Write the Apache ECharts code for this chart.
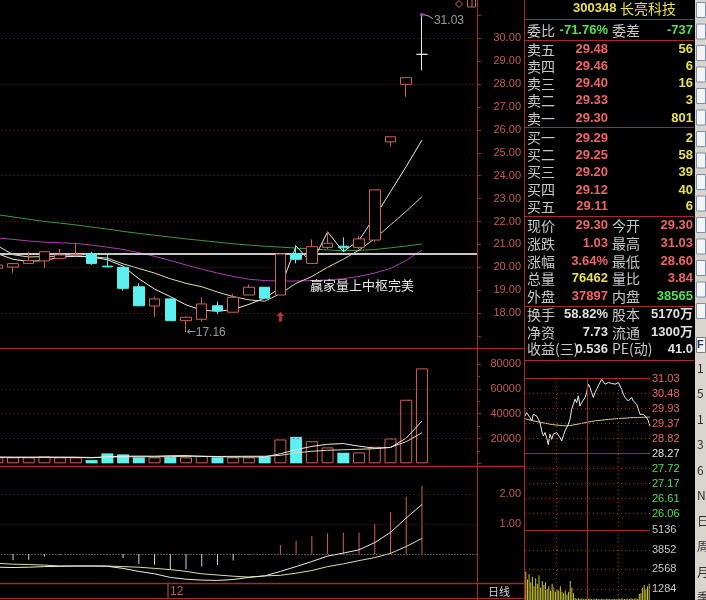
<!DOCTYPE html>
<html><head><meta charset="utf-8">
<script src="https://cdn.jsdelivr.net/npm/echarts@6/dist/echarts.min.js"></script>
<style>html,body{margin:0;padding:0;background:#000;overflow:hidden;width:706px;height:600px;position:relative}#c{position:absolute;left:-11px;top:0;width:717px;height:600px}</style>
</head><body><div id="c"></div>
<script>
// ---------------- data ----------------
const dates = ['11-16','11-19','11-20','11-21','11-22','11-23','11-26','11-27','11-28','11-29','11-30','12-03','12-04','12-05','12-06','12-07','12-10','12-11','12-12','12-13','12-14','12-17','12-18','12-19','12-20','12-21','12-24','12-25','12-26','12-27','12-28'];
const opens  = [19.96,20.01,20.17,20.28,20.39,20.52,20.60,20.05,20.00,19.15,18.31,18.62,17.67,17.73,18.32,18.04,18.79,19.13,18.79,20.60,20.17,20.87,20.92,20.87,21.19,25.48,27.99,29.30];
const closes = [20.10,20.16,20.29,20.68,20.54,20.55,20.17,20.02,19.08,18.32,18.62,17.67,17.82,18.40,18.10,18.69,19.13,18.65,20.58,20.35,20.90,21.05,20.85,21.24,23.38,25.70,28.28,29.30];
const lows   = [19.90,19.76,20.17,19.96,20.39,20.52,20.10,20.00,18.98,18.30,17.84,17.67,17.16,17.62,17.96,18.04,18.79,18.65,18.79,20.17,20.15,20.80,20.70,20.80,21.12,25.27,27.45,28.60];
const highs  = [20.15,20.18,20.68,20.70,20.80,21.07,20.68,20.60,20.00,19.30,18.72,18.62,17.85,18.69,18.50,18.83,19.25,19.13,20.60,20.97,21.22,21.55,21.31,21.37,23.38,25.70,28.28,31.03];
const ma5  = [20.60,20.35,20.26,20.30,20.45,20.48,20.45,20.33,20.05,19.50,19.05,18.72,18.36,18.13,18.08,18.15,18.38,18.66,19.10,20.93,20.17,21.55,20.68,21.19,22.20,23.30,24.40,25.56];
const ma10 = [20.95,20.55,20.45,20.47,20.49,20.50,20.46,20.40,20.15,19.95,19.75,19.50,19.30,19.15,18.92,18.72,18.58,18.52,18.85,19.30,19.60,20.00,20.35,20.75,21.25,21.85,22.45,23.08];
const ma30 = [21.28,21.22,21.15,21.10,21.07,21.04,20.97,20.88,20.78,20.64,20.48,20.30,20.10,19.92,19.75,19.60,19.48,19.42,19.40,19.40,19.42,19.45,19.50,19.60,19.75,19.95,20.30,20.75];
const ma60 = [22.30,22.20,22.10,22.00,21.93,21.85,21.76,21.67,21.57,21.48,21.40,21.32,21.24,21.17,21.10,21.03,20.97,20.92,20.88,20.84,20.80,20.76,20.72,20.74,20.78,20.85,20.93,21.02];
const refLevel = 20.58;
const lowMark = {idx:12, value:17.16};
const highMark = {idx:27, value:31.03};
const signalIdx = [18];
const signalPrice = [17.84];
const volumes = [4800,4800,4800,5500,4800,4800,2600,8000,7200,4800,4800,5000,4800,5800,4800,4800,4800,5500,19200,21300,17800,12800,8500,8800,13300,20000,51200,76462];
const volMa5  = [4900,4800,4800,4900,4800,4800,4400,5200,5700,5800,5700,6100,6200,5600,5300,5100,5100,5100,7700,11000,13600,15300,15900,13800,12200,12700,20300,34000];
const volMa10 = [5000,4900,4900,4900,4900,4900,4700,5000,5200,5300,5200,5400,5600,5700,5500,5600,5700,5700,6400,8400,9700,10500,10900,11300,11800,12900,17400,24600];
const macd = [-0.25,-0.21,-0.19,-0.08,-0.02,0.01,-0.01,-0.02,-0.13,-0.33,-0.36,-0.52,-0.51,-0.42,-0.37,-0.22,-0.02,0.00,0.30,0.44,0.60,0.69,0.71,0.72,1.00,1.39,1.91,2.27];
const dif  = [-0.44,-0.45,-0.44,-0.42,-0.41,-0.40,-0.40,-0.41,-0.48,-0.58,-0.66,-0.78,-0.84,-0.87,-0.88,-0.85,-0.78,-0.73,-0.58,-0.42,-0.25,-0.07,0.03,0.14,0.38,0.72,1.20,1.65];
const dea  = [-0.31,-0.34,-0.35,-0.37,-0.40,-0.40,-0.40,-0.40,-0.42,-0.44,-0.48,-0.52,-0.58,-0.66,-0.70,-0.74,-0.77,-0.73,-0.71,-0.64,-0.55,-0.42,-0.33,-0.22,-0.12,0.02,0.25,0.52];
const priceGridLevels = [18,20,22,24,26,28,30];
const volGridLevels = [20000,40000,60000];
const macdGridLevels = [1,2];
const indicatorTitle = '赢家量上中枢完美';
const periodLabel = '日线';

// intraday mini chart
const prevClose = 28.27;
const miniPrice = [29.68,29.80,29.87,29.62,29.50,29.74,29.80,29.68,29.56,29.44,
29.13,28.95,29.07,28.88,28.62,29.01,28.82,29.01,28.95,29.07,
29.01,28.88,28.76,28.95,29.13,29.25,29.38,29.56,29.93,30.11,
30.30,30.17,30.42,30.05,30.17,30.23,30.36,30.54,30.85,30.73,
30.54,30.36,30.54,30.66,30.79,30.91,31.03,30.97,30.85,30.91,
30.91,30.85,30.88,30.91,30.85,30.85,30.91,30.88,30.66,30.48,
30.36,30.30,30.23,30.17,30.36,30.23,30.17,30.11,29.93,29.74,
29.80,29.74,29.68,29.62,29.50,29.30];
const miniAvg = [29.58,29.50,29.44,29.38,29.34,29.32,29.36,29.42,29.48,29.52,29.55,29.58,29.60,29.62,29.63,29.64];
const miniVol = [2100,1500,1900,1300,1700,1000,1600,1200,1800,900,
1400,1100,1300,800,1000,700,1200,900,600,800,
700,1000,600,500,700,400,600,1400,900,500,
150,100,120,90,110,80,70,100,90,120,
80,60,90,100,70,60,90,80,60,90,
100,70,60,90,70,60,90,80,120,90,
70,100,90,80,120,90,100,120,90,450,
500,900,1100,800,1000,1200];
const miniPriceLabels = ['31.03','30.48','29.93','29.37','28.82','28.27','27.72','27.17','26.61','26.06'];
const miniVolLabels = ['5136','3852','2568','1284'];

// quote panel
const stockCode = '300348', stockName = '长亮科技';
const weiRow = ['委比','-71.76%','委差','-737'];
const bookRows = [['卖五','29.48','56'],['卖四','29.46','6'],['卖三','29.40','16'],['卖二','29.33','3'],['卖一','29.30','801'],
                  ['买一','29.29','2'],['买二','29.25','58'],['买三','29.20','39'],['买四','29.12','40'],['买五','29.11','6']];
const quoteRows = [['现价','29.30','今开','29.30'],['涨跌','1.03','最高','31.03'],['涨幅','3.64%','最低','28.60'],['总量','76462','量比','3.84'],['外盘','37897','内盘','38565']];
const infoRows = [['换手','58.82%','股本','5170万'],['净资','7.73','流通','1300万'],['收益(三)','0.536','PE(动)','41.0']];
const toolLetters = ['1','5','1','3','6','N','日','周','月','季'];

// ---------------- styles ----------------
const OX = 11; // canvas is shifted 11px left so the first, half-hidden candle can sit left of the page edge
const RED='#d2605a', CYAN='#5cf0f0', BORDER='#a82828', GRID='#7a2424', AXT='#c65a5a';
const LBL='#c8c8c8', PR='#f06464', YEL='#e8e050', GRN='#50e050', WHT='#e0e0e0';
const NUMF='Liberation Sans, DejaVu Sans';
const valueColor = {'委比':GRN,'委差':GRN,'现价':PR,'今开':PR,'涨跌':PR,'最高':PR,'涨幅':PR,'最低':PR,'总量':YEL,'量比':PR,'外盘':PR,'内盘':GRN};

const candleData = opens.map((o,i)=>{
  const it = {value:[o, closes[i], lows[i], highs[i]]};
  if (o === closes[i]) it.itemStyle = {color:'#e8e8e8',color0:'#e8e8e8',borderColor:'#e8e8e8',borderColor0:'#e8e8e8',borderColorDoji:'#e8e8e8'};
  return it;
});
const volData = volumes.map((v,i)=>({value:v, itemStyle: closes[i]>=opens[i] ? {color:'#000',borderColor:RED,borderWidth:1} : {color:CYAN,borderColor:CYAN,borderWidth:0}}));
const nulls = dates.map(()=>null);
function gridSeries(xi, levels, extra){
  return {type:'line', xAxisIndex:xi, yAxisIndex:xi, data:nulls, silent:true, z:1, symbol:'none',
    markLine:{silent:true, symbol:'none', label:{show:false}, animation:false,
      lineStyle:{color:GRID, type:[1,3], width:1},
      data: levels.map(v=>({yAxis:v})).concat(extra||[])}};
}
const lineS = (xi, data, color, z) => ({type:'line', xAxisIndex:xi, yAxisIndex:xi, data, symbol:'none', z:z||3,
  lineStyle:{color, width:1}, silent:true, clip:false});

// ---------------- graphic (page coordinates, shifted by OX in a group) ----------------
const G = [];
function ln(x1,y1,x2,y2,c,dash,w){ G.push({type:'line', silent:true, z:50, shape:{x1,y1,x2,y2}, style:{stroke:c, lineWidth:w||1, lineDash:dash||null}}); }
function tx(x,y,t,c,font,align){ G.push({type:'text', silent:true, z:60, x, y, style:{text:t, fill:c, font, align:align||'left', verticalAlign:'middle'}}); }
const CJK14='14px "Noto Sans CJK SC"';
const NUM13='bold 13px "Liberation Sans", "Noto Sans CJK SC"';

ln(477.5,0,477.5,600,BORDER); ln(524.5,0,524.5,600,BORDER);
ln(0,348.5,524,348.5,BORDER); ln(0,466.5,524,466.5,BORDER,null,1.5); ln(0,583.5,524,583.5,BORDER,null,1.5); ln(0,598.5,524,598.5,BORDER);
ln(168,584,168,598,'#c06060');
tx(170,591.5,'12',AXT,'12px '+NUMF);
tx(488,591.5,periodLabel,'#d8d8d8','11px "Noto Sans CJK SC"');
tx(310,285,indicatorTitle,'#e8e8e8','13px "Noto Sans CJK SC"');
G.push({type:'polygon',silent:true,z:50,shape:{points:[[459,0.5],[462.5,4],[459,7.5],[455.5,4]]},style:{fill:'none',stroke:RED}});
G.push({type:'rect',silent:true,z:50,shape:{x:467.5,y:-1,width:8,height:8},style:{fill:'none',stroke:RED}});
ln(472,0,472,7,RED);

[19.5,40.5,127.5,216.5,306.5,360.5].forEach(y=>ln(525,y,694,y,BORDER));
tx(573,8.5,stockCode,YEL,'bold 13px "Liberation Sans"');
tx(620,8.5,stockName,YEL,CJK14);
tx(527,30.5,weiRow[0],LBL,CJK14); tx(608,30.5,weiRow[1],GRN,NUM13,'right');
tx(612,30.5,weiRow[2],LBL,CJK14); tx(693,30.5,weiRow[3],GRN,NUM13,'right');
const bookY=[49.7,66.5,83.5,100.5,118.3,138,155,172,190,206.7];
bookRows.forEach((r,i)=>{ tx(527,bookY[i],r[0],LBL,CJK14); tx(608,bookY[i],r[1],PR,NUM13,'right'); tx(693,bookY[i],r[2],YEL,NUM13,'right'); });
const quoteY=[225.8,243.5,261.3,278.7,296.2];
quoteRows.forEach((r,i)=>{ tx(527,quoteY[i],r[0],LBL,CJK14); tx(608,quoteY[i],r[1],valueColor[r[0]],NUM13,'right');
  tx(612,quoteY[i],r[2],LBL,CJK14); tx(693,quoteY[i],r[3],valueColor[r[2]],NUM13,'right'); });
const infoY=[314.7,332.3,349];
infoRows.forEach((r,i)=>{ tx(527,infoY[i],r[0],LBL,CJK14); tx(608,infoY[i],r[1],WHT,NUM13,'right');
  tx(612,infoY[i],r[2],LBL,CJK14); tx(693,infoY[i],r[3],WHT,NUM13,'right'); });

const mTop=379.3, mStep=15;
miniPriceLabels.forEach((t,i)=>{
  const y=mTop+i*mStep, v=parseFloat(t);
  const solid = (i===0 || t===prevClose.toFixed(2));
  ln(525,Math.round(y)-0.5,650,Math.round(y)-0.5,BORDER,solid?null:[1,3]);
  tx(652,y,t, v>prevClose?PR:(v<prevClose?GRN:WHT),'11px '+NUMF);
});
const mvY=[530,549.5,569,588.5];
miniVolLabels.forEach((t,i)=>{ ln(525,Math.round(mvY[i])+0.5,650,Math.round(mvY[i])+0.5,BORDER,i===0?null:[1,3]); tx(652,mvY[i],t,LBL,'11px '+NUMF); });
[[556.5,[1,3]],[587.5,null],[618.5,[1,3]]].forEach(a=>ln(a[0],378,a[0],600,BORDER,a[1]));

G.push({type:'rect',silent:true,z:40,shape:{x:695,y:0,width:11,height:600},style:{fill:'#d8d5cf'}});
for(let k=0;k<15;k++){ G.push({type:'rect',silent:true,z:41,shape:{x:696.5,y:2.5+k*21.5,width:9,height:15},style:{fill:'#f4f4f4',stroke:'#7890b0'}}); }
G.push({type:'rect',silent:true,z:41,shape:{x:696.5,y:337.5,width:9,height:15},style:{fill:'#f4f4f4',stroke:'#808080'}});
tx(697,345,'F','#203070','bold 11px '+NUMF);
toolLetters.forEach((t,i)=>tx(697,368+i*25.5,t,'#303030','12px "Noto Sans CJK SC"'));

// ---------------- option ----------------
const yLabel = (fmt)=>({color:AXT, fontSize:11, fontFamily:NUMF, margin:44, align:'right', formatter:fmt});
const markLabel = {show:true, position:'right', color:'#c0c0c0', fontSize:12, fontFamily:NUMF};
const option = {
  backgroundColor:'#000', animation:false,
  grid:[
    {left:OX-10.6, width:487.6, top:15.4, height:320.6},
    {left:OX-10.6, width:487.6, top:364, height:99.3},
    {left:OX-10.6, width:487.6, top:464, height:120},
    {left:OX+525, width:125, top:379.3, height:135},
    {left:OX+525, width:125, top:530, height:77.7}
  ],
  xAxis:[
    {gridIndex:0,type:'category',data:dates,boundaryGap:true,show:false},
    {gridIndex:1,type:'category',data:dates,boundaryGap:true,show:false},
    {gridIndex:2,type:'category',data:dates,boundaryGap:true,show:false},
    {gridIndex:3,type:'value',min:0,max:miniPrice.length-1,show:false},
    {gridIndex:4,type:'category',data:miniVol.map((_,i)=>String(i)),show:false}
  ],
  yAxis:[
    {gridIndex:0,type:'value',position:'right',min:17,max:31,interval:1,axisLine:{show:false},splitLine:{show:false},
      axisTick:{show:true,length:4,lineStyle:{color:BORDER}},
      axisLabel:yLabel(v=>(v>=priceGridLevels[0]&&v<=priceGridLevels[priceGridLevels.length-1])?v.toFixed(2):'')},
    {gridIndex:1,type:'value',position:'right',min:0,max:80000,interval:20000,axisLine:{show:false},splitLine:{show:false},
      axisTick:{show:true,length:4,lineStyle:{color:BORDER}},minorTick:{show:true,splitNumber:2,length:3,lineStyle:{color:BORDER}},
      axisLabel:yLabel(v=>v>0?String(v):'')},
    {gridIndex:2,type:'value',position:'right',min:-1,max:3,interval:1,axisLine:{show:false},splitLine:{show:false},
      axisTick:{show:false},minorTick:{show:false},
      axisLabel:yLabel(v=>macdGridLevels.indexOf(v)>=0?v.toFixed(2):'')},
    {gridIndex:3,type:'value',min:26.06,max:31.03,show:false},
    {gridIndex:4,type:'value',min:0,max:5136,show:false}
  ],
  series:[
    gridSeries(0, priceGridLevels, [{yAxis:refLevel, lineStyle:{color:'#c8c8c8', type:'solid', width:2}}]),
    {type:'candlestick', xAxisIndex:0, yAxisIndex:0, data:candleData, barWidth:11, clip:false, z:5,
      itemStyle:{color:'#000', color0:CYAN, borderColor:RED, borderColor0:CYAN, borderWidth:1, borderColorDoji:'#e8e8e8'}},
    lineS(0, ma60, '#3c9a3c', 3),
    lineS(0, ma30, '#b03cb0', 3),
    lineS(0, ma10, '#e0dca8', 4),
    lineS(0, ma5, '#ececec', 4),
    {type:'scatter', xAxisIndex:0, yAxisIndex:0, silent:true, z:7, clip:false,
      data:[[highMark.idx, highMark.value]], symbol:'circle', symbolSize:4, itemStyle:{color:'#c040c0'},
      label:Object.assign({}, markLabel, {distance:10, offset:[0,6], formatter:highMark.value.toFixed(2)})},
    {type:'scatter', xAxisIndex:0, yAxisIndex:0, silent:true, z:7, clip:false,
      data:[[lowMark.idx, lowMark.value]], symbol:'circle', symbolSize:1, itemStyle:{color:'rgba(0,0,0,0)'},
      label:Object.assign({}, markLabel, {distance:0, formatter:'{a|←}'+lowMark.value.toFixed(2),
        rich:{a:{fontFamily:'DejaVu Sans', fontSize:11, color:'#c0c0c0'}}})},
    {type:'scatter', xAxisIndex:0, yAxisIndex:0, silent:true, z:6, clip:false,
      data:signalIdx.map((d,i)=>[d, signalPrice[i]]),
      symbol:'path://M4,0 L8,4.5 L5.5,4.5 L5.5,10 L2.5,10 L2.5,4.5 L0,4.5 Z', symbolSize:[8,10], itemStyle:{color:'#e04040'}},
    gridSeries(1, volGridLevels),
    {type:'bar', xAxisIndex:1, yAxisIndex:1, data:volData, barWidth:12, z:3, silent:true},
    lineS(1, volMa10, '#e0dca8', 4),
    lineS(1, volMa5, '#ececec', 4),
    gridSeries(2, macdGridLevels, [{yAxis:0, lineStyle:{color:'#a0a0a0', type:[1,2], width:1}}]),
    {type:'bar', xAxisIndex:2, yAxisIndex:2, data:macd, barWidth:1, z:3, silent:true,
      itemStyle:{color:p=>p.value>=0?RED:'#a8e8e8'}},
    lineS(2, dea, '#e0dca8', 4),
    lineS(2, dif, '#ececec', 4),
    {type:'line', xAxisIndex:3, yAxisIndex:3, data:miniAvg.map((p,i)=>[i*5,p]), symbol:'none', smooth:true, lineStyle:{color:'#e0d890',width:1}, silent:true, z:4},
    {type:'line', xAxisIndex:3, yAxisIndex:3, data:miniPrice.map((p,i)=>[i,p]), symbol:'none', lineStyle:{color:'#eeeeee',width:1}, silent:true, z:5},
    {type:'bar', xAxisIndex:4, yAxisIndex:4, data:miniVol, barWidth:1, itemStyle:{color:'#c8c832'}, silent:true, z:3}
  ],
  graphic:[{type:'group', x:OX, y:0, silent:true, children:G}]
};
const chart = echarts.init(document.getElementById('c'), null, {renderer:'canvas', width:717, height:600});
chart.setOption(option);
// small leader from the high point to its label, placed through the chart's own scale
const hp = chart.convertToPixel({gridIndex:0}, [highMark.idx, highMark.value]);
if (hp) {
  chart.setOption({graphic:[{type:'group', x:OX, y:0, silent:true, children:G},
    {type:'polyline', silent:true, z:60, shape:{points:[[hp[0]+2,hp[1]],[hp[0]+6,hp[1]+1],[hp[0]+11,hp[1]+4]]}, style:{stroke:'#b0b0b0', lineWidth:1, fill:null}}]});
}
</script>
</body></html>
